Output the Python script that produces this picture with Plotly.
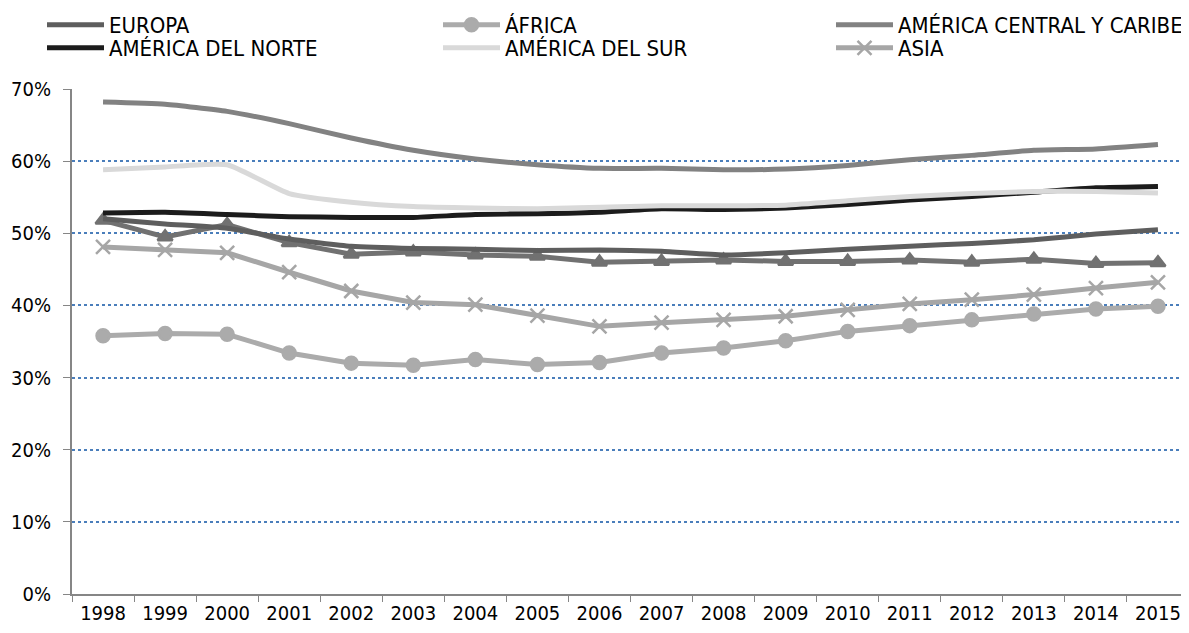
import plotly.graph_objects as go

years = [str(y) for y in range(1998, 2016)]

europa = [52.0, 51.3, 50.7, 49.2, 48.2, 47.9, 47.8, 47.6, 47.7, 47.5, 47.0, 47.3, 47.8, 48.2, 48.6, 49.1, 49.9, 50.5]
africa = [35.8, 36.1, 36.0, 33.4, 32.0, 31.7, 32.5, 31.8, 32.1, 33.4, 34.1, 35.1, 36.4, 37.2, 38.0, 38.8, 39.5, 39.9]
am_central = [68.2, 67.9, 66.9, 65.2, 63.2, 61.5, 60.3, 59.5, 59.0, 59.0, 58.8, 58.9, 59.4, 60.2, 60.8, 61.5, 61.7, 62.3]
am_norte = [52.8, 52.9, 52.6, 52.3, 52.2, 52.2, 52.6, 52.7, 52.9, 53.4, 53.3, 53.5, 54.0, 54.6, 55.1, 55.7, 56.3, 56.5]
am_sur = [58.8, 59.2, 59.5, 55.5, 54.3, 53.7, 53.5, 53.4, 53.6, 53.8, 53.8, 53.9, 54.5, 55.1, 55.5, 55.8, 55.8, 55.6]
asia = [48.1, 47.7, 47.3, 44.6, 42.0, 40.4, 40.1, 38.6, 37.1, 37.6, 38.0, 38.5, 39.4, 40.2, 40.8, 41.5, 42.4, 43.2]
oceania = [51.8, 49.5, 51.2, 48.7, 47.1, 47.4, 47.0, 46.8, 46.0, 46.1, 46.3, 46.1, 46.1, 46.3, 46.0, 46.4, 45.8, 45.9]

ytick_vals = [0, 10, 20, 30, 40, 50, 60, 70]
ytick_text = ["0%", "10%", "20%", "30%", "40%", "50%", "60%", "70%"]
grid_vals = [10, 20, 30, 40, 50, 60]

FONT = "DejaVu Sans Condensed, Liberation Sans Narrow, Arial Narrow, sans-serif"

# page body has an 8px margin, so the figure is sized to fit the window
W, H = 1181, 625

fig = go.Figure()

def add(name, vals, color, symbol=None, smooth=False, legend=None):
    mode = "lines+markers" if symbol else "lines"
    fig.add_trace(go.Scatter(
        x=years, y=vals, name=name, mode=mode,
        line=dict(color=color, width=5, shape="spline" if smooth else "linear",
                  smoothing=0.5 if smooth else None),
        marker=dict(symbol=symbol, size=13 if symbol != "x-thin" else 14, color=color,
                    line=dict(color=color, width=2.5)) if symbol else None,
        showlegend=legend is not None,
        legend=legend if legend else "legend",
    ))

add("OCEANÍA", oceania, "#717171", symbol="triangle-up")
add("EUROPA", europa, "#5e5e5e", smooth=True, legend="legend")
add("AMÉRICA DEL NORTE", am_norte, "#1c1c1c", smooth=True, legend="legend2")
add("ÁFRICA", africa, "#ababab", symbol="circle", legend="legend3")
add("AMÉRICA DEL SUR", am_sur, "#d9d9d9", smooth=True, legend="legend4")
add("AMÉRICA CENTRAL Y CARIBE", am_central, "#828282", smooth=True, legend="legend5")
add("ASIA", asia, "#a6a6a6", symbol="x-thin", legend="legend6")

def leg(xpx, ypx):
    return dict(orientation="v", xref="container", yref="container",
                x=xpx / W, y=1 - ypx / H, xanchor="left", yanchor="middle",
                font=dict(size=22), itemwidth=57,
                bgcolor="rgba(0,0,0,0)")

row1, row2 = 17, 40
fig.update_layout(
    width=W, height=H,
    margin=dict(l=64, r=0, t=81, b=39, autoexpand=False),
    paper_bgcolor="white", plot_bgcolor="white",
    font=dict(family=FONT, size=20, color="#000000"),
    legend=leg(34, row1), legend2=leg(34, row2),
    legend3=leg(430, row1), legend4=leg(430, row2),
    legend5=leg(823, row1), legend6=leg(823, row2),
    xaxis=dict(type="category", range=[-0.5, 17.5], tickson="boundaries",
               ticks="outside", ticklen=6, tickcolor="#868686",
               showline=True, linecolor="#868686", linewidth=2,
               showgrid=False, tickfont=dict(size=20), automargin=False),
    yaxis=dict(range=[0, 70], tickvals=ytick_vals, ticktext=ytick_text,
               ticks="outside", ticklen=7, tickcolor="#868686",
               showline=True, linecolor="#868686", linewidth=2,
               showgrid=False, zeroline=False, tickfont=dict(size=20),
               automargin=False, ticklabelstandoff=8,
               minor=dict(tickvals=grid_vals, showgrid=True, griddash="dot",
                          gridcolor="#4a7ebb", gridwidth=1.5, ticks="")),
)

fig.write_html("out.html")
